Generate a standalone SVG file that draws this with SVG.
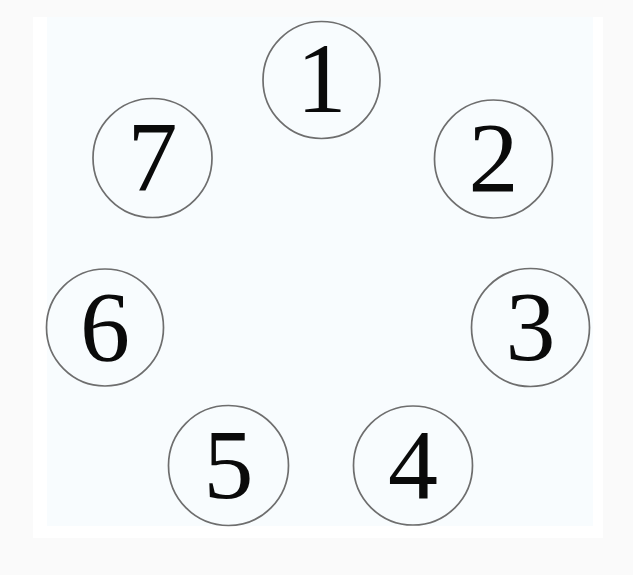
<svg xmlns="http://www.w3.org/2000/svg" width="633" height="575" viewBox="0 0 633 575">
<style>
.n circle{fill:none;stroke:#6e6e6e;stroke-width:1.7}
.n text{font-family:"Liberation Serif","DejaVu Serif",serif;font-size:100px;fill:#0a0a0a;text-anchor:middle}
</style>
<rect x="0" y="0" width="633" height="575" fill="#fafafa"/>
<rect x="33" y="17" width="570" height="521" fill="#ffffff"/>
<rect x="47" y="17" width="546" height="509" fill="#f8fcfe"/>
<g id="connectors"></g>
<g id="node1" class="n"><circle cx="321.5" cy="80" r="58.5"/><text x="321.5" y="112">1</text></g>
<g id="node2" class="n"><circle cx="493.5" cy="159" r="59"/><text x="493.5" y="191">2</text></g>
<g id="node3" class="n"><circle cx="530.5" cy="327.5" r="59"/><text x="530.5" y="359.5">3</text></g>
<g id="node4" class="n"><circle cx="413" cy="465.5" r="59.5"/><text x="413" y="497.5">4</text></g>
<g id="node5" class="n"><circle cx="228.5" cy="465.5" r="60"/><text x="228.5" y="497.5">5</text></g>
<g id="node6" class="n"><circle cx="105" cy="327.5" r="58.5"/><text x="105" y="359.5">6</text></g>
<g id="node7" class="n"><circle cx="152.5" cy="158" r="59.5"/><text x="152.5" y="190">7</text></g>
</svg>
